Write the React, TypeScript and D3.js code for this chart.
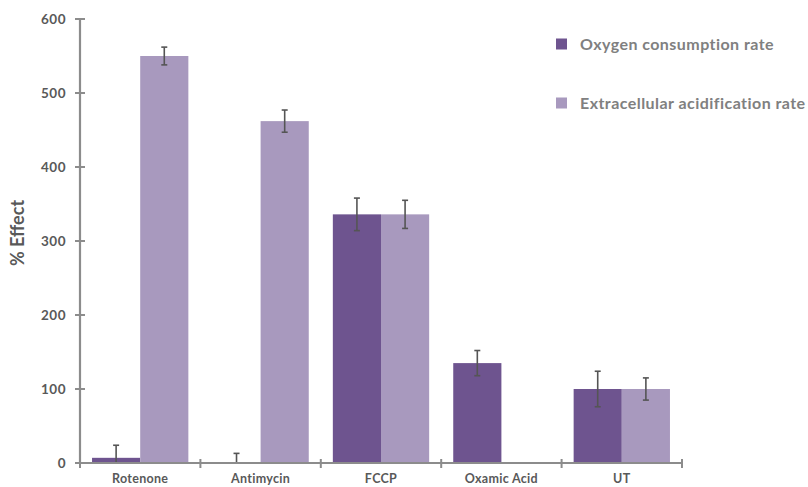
import * as d3 from "d3";

const categories = ["Rotenone", "Antimycin", "FCCP", "Oxamic Acid", "UT"];
const seriesNames = ["Oxygen consumption rate", "Extracellular acidification rate"];
const ocrValues = [7, 0, 336, 135, 100];
const ocrErrors = [17, 13, 22, 17, 24];
const ecarValues = [550, 462, 336, 0, 100];
const ecarErrors = [12, 15, 19, 0, 15];
const yTicks = [0, 100, 200, 300, 400, 500, 600];
const colors = ["#6e548f", "#a899be"];

const W = 808;
const H = 487;
const font = "Lato, 'Open Sans', sans-serif";

export default function App() {
  const x0 = d3.scaleBand<string>().domain(categories).range([80, 682]).padding(0);
  const x1 = d3
    .scaleBand<string>()
    .domain(seriesNames)
    .range([0, x0.bandwidth()])
    .paddingInner(0)
    .paddingOuter(0.25);
  const y = d3.scaleLinear().domain([0, 600]).range([463, 19]);

  const series = [
    { name: seriesNames[0], values: ocrValues, errors: ocrErrors },
    { name: seriesNames[1], values: ecarValues, errors: ecarErrors },
  ];

  return (
    <svg
      width={W}
      height={H}
      style={{ position: "absolute", left: 0, top: 0, background: "#fff" }}
    >
      {/* bars */}
      {series.map((s, si) =>
        categories.map((c, i) =>
          s.values[i] > 0 ? (
            <rect
              key={s.name + c}
              x={(x0(c) ?? 0) + (x1(s.name) ?? 0)}
              y={y(s.values[i])}
              width={x1.bandwidth()}
              height={y(0) - y(s.values[i])}
              fill={colors[si]}
            />
          ) : null
        )
      )}
      {/* error bars */}
      {series.map((s) =>
        categories.map((c, i) => {
          if (!s.errors[i]) return null;
          const cx = (x0(c) ?? 0) + (x1(s.name) ?? 0) + x1.bandwidth() / 2;
          const top = y(s.values[i] + s.errors[i]);
          const bot = y(Math.max(0, s.values[i] - s.errors[i]));
          return (
            <g key={"e" + s.name + c} stroke="#555" strokeWidth={1.6}>
              <line x1={cx} x2={cx} y1={top} y2={bot} />
              <line x1={cx - 3} x2={cx + 3} y1={top} y2={top} />
              <line x1={cx - 3} x2={cx + 3} y1={bot} y2={bot} />
            </g>
          );
        })
      )}
      {/* y axis */}
      <line x1={80} x2={80} y1={y(600)} y2={y(0)} stroke="#8c8c8c" strokeWidth={2.2} />
      {yTicks.map((t) => (
        <g key={t}>
          <line x1={75} x2={85} y1={y(t)} y2={y(t)} stroke="#8c8c8c" strokeWidth={2} />
          <text
            x={66}
            y={y(t)}
            dy="0.35em"
            textAnchor="end"
            fontFamily={font}
            fontWeight="bold"
            fontSize={13.5}
            letterSpacing={0.5}
            fill="#595959"
          >
            {t}
          </text>
        </g>
      ))}
      <text
        transform={`translate(24,233) rotate(-90)`}
        textAnchor="middle"
        fontFamily={font}
        fontWeight="bold"
        fontSize={18}
        fill="#595959"
      >
        % Effect
      </text>
      {/* x axis */}
      <line x1={80} x2={682} y1={y(0)} y2={y(0)} stroke="#8c8c8c" strokeWidth={2.2} />
      {[...categories.map((c) => x0(c) ?? 0), 682].map((t, i) => (
        <line key={i} x1={t} x2={t} y1={y(0) - 4} y2={y(0) + 5} stroke="#8c8c8c" strokeWidth={2} />
      ))}
      {categories.map((c) => (
        <text
          key={c}
          x={(x0(c) ?? 0) + x0.bandwidth() / 2}
          y={479}
          dy="0.35em"
          textAnchor="middle"
          fontFamily={font}
          fontWeight="bold"
          fontSize={12.5}
          letterSpacing={0.3}
          fill="#595959"
        >
          {c}
        </text>
      ))}
      {/* legend */}
      {seriesNames.map((n, i) => (
        <g key={n} transform={`translate(556,${44 + i * 59})`}>
          <rect x={0} y={-5.5} width={11} height={11} fill={colors[i]} />
          <text
            x={24}
            y={0}
            dy="0.35em"
            fontFamily={font}
            fontWeight="bold"
            fontSize={16}
            letterSpacing={0.45}
            fill="#808080"
          >
            {n}
          </text>
        </g>
      ))}
    </svg>
  );
}
